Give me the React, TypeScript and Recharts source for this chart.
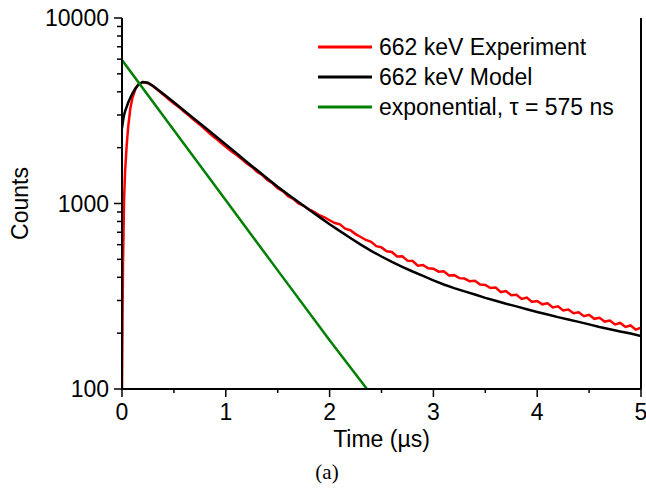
import React from "react";
import { LineChart, Line, XAxis, YAxis, Legend } from "recharts";

// experiment (red)
const expTime = [
  0, 0.005, 0.01, 0.02, 0.03, 0.045, 0.06, 0.08, 0.1, 0.13, 0.16, 0.2, 0.25,
  0.3, 0.35, 0.4, 0.45, 0.5, 0.55, 0.6, 0.65, 0.7, 0.75, 0.8, 0.85, 0.9, 0.95,
  1.0, 1.05, 1.1, 1.15, 1.2, 1.25, 1.3, 1.35, 1.4, 1.45, 1.5, 1.55, 1.6, 1.65,
  1.7, 1.75, 1.8, 1.85, 1.9, 1.95, 2.0, 2.05, 2.1, 2.15, 2.2, 2.25, 2.3, 2.35,
  2.4, 2.45, 2.5, 2.55, 2.6, 2.65, 2.7, 2.75, 2.8, 2.85, 2.9, 2.95, 3.0, 3.05,
  3.1, 3.15, 3.2, 3.25, 3.3, 3.35, 3.4, 3.45, 3.5, 3.55, 3.6, 3.65, 3.7, 3.75,
  3.8, 3.85, 3.9, 3.95, 4.0, 4.05, 4.1, 4.15, 4.2, 4.25, 4.3, 4.35, 4.4, 4.45,
  4.5, 4.55, 4.6, 4.65, 4.7, 4.75, 4.8, 4.85, 4.9, 4.95, 5.0,
];
const expCounts = [
  100, 230, 480, 1050, 1500, 2050, 2600, 3250, 3700, 4150, 4400, 4520, 4450,
  4290, 4060, 3850, 3650, 3460, 3300, 3120, 2960, 2800, 2660, 2510, 2370, 2250, 2130,
  2020, 1920, 1830, 1740, 1650, 1575, 1485, 1425, 1340, 1285, 1210, 1165, 1095, 1060,
  1000, 972, 930, 902, 865, 843, 812, 785, 772, 731, 718, 684, 660, 636,
  621, 589, 580, 553, 548, 518, 519, 492, 490, 462, 466, 447, 445, 429,
  431, 409, 411, 396, 394, 381, 383, 366, 364, 350, 352, 333, 337, 320,
  322, 306, 311, 295, 298, 286, 290, 275, 279, 265, 268, 256, 259, 247,
  251, 239, 242, 231, 234, 223, 227, 216, 220, 209, 214,
];

// model (black)
const modelTime = [
  0, 0.01, 0.02, 0.03, 0.045, 0.06, 0.08, 0.1, 0.13, 0.16, 0.2, 0.25, 0.3,
  0.4, 0.5, 0.6, 0.7, 0.8, 0.9, 1.0, 1.1, 1.2, 1.3, 1.4, 1.5, 1.6, 1.7, 1.8,
  1.9, 2.0, 2.1, 2.2, 2.3, 2.4, 2.5, 2.6, 2.7, 2.8, 2.9, 3.0, 3.1, 3.2, 3.3,
  3.4, 3.5, 3.6, 3.7, 3.8, 3.9, 4.0, 4.1, 4.2, 4.3, 4.4, 4.5, 4.6, 4.7, 4.8,
  4.9, 5.0,
];
const modelCounts = [
  2540, 2800, 3000, 3150, 3320, 3500, 3720, 3910, 4180, 4380, 4520, 4480, 4300,
  3890, 3510, 3160, 2850, 2570, 2310, 2080, 1870, 1680, 1515, 1365, 1230, 1117, 1019, 929,
  847, 773, 710, 652, 600, 556, 518, 485, 456, 430, 407, 385, 366, 350, 336,
  323, 310, 299, 288, 279, 269, 260, 252, 244, 237, 230, 223, 216, 210, 204,
  199, 193,
];

// exponential, tau = 575 ns (green)
const expoTime = [0, 0.5, 1.0, 1.5, 2.0, 2.36];
const expoCounts = [5930, 2480, 1040, 436, 183, 100];

const xTicks = [0, 0.5, 1, 1.5, 2, 2.5, 3, 3.5, 4, 4.5, 5];
const yTicks = [
  100, 200, 300, 400, 500, 600, 700, 800, 900,
  1000, 2000, 3000, 4000, 5000, 6000, 7000, 8000, 9000, 10000,
];
const yMajor = [100, 1000, 10000];

const expData = expTime.map((t, i) => ({ t, v: expCounts[i] }));
const modelData = modelTime.map((t, i) => ({ t, v: modelCounts[i] }));
const expoData = expoTime.map((t, i) => ({ t, v: expoCounts[i] }));

const FONT = "'Liberation Sans', Arial, Helvetica, sans-serif";
const FS = 23;
const AXIS = { stroke: "#000", strokeWidth: 2 };

const XTick = (props: any) => {
  const { x, y, payload } = props;
  const major = Number.isInteger(payload.value);
  return (
    <g>
      <line x1={x} x2={x} y1={y} y2={y + (major ? 8 : 4)} stroke="#000" strokeWidth={1.5} />
      {major && (
        <text x={x} y={y + 31} textAnchor="middle" fontFamily={FONT} fontSize={FS} fill="#000">
          {payload.value}
        </text>
      )}
    </g>
  );
};

const YTick = (props: any) => {
  const { x, y, payload } = props;
  const major = yMajor.includes(payload.value);
  return (
    <g>
      <line x1={x - (major ? 8 : 5)} x2={x} y1={y} y2={y} stroke="#000" strokeWidth={1.5} />
      {major && (
        <text x={x - 13} y={y + 8} textAnchor="end" fontFamily={FONT} fontSize={FS} fill="#000">
          {payload.value}
        </text>
      )}
    </g>
  );
};

const LegendBox = (props: any) => {
  const { payload } = props;
  return (
    <div style={{ fontFamily: FONT, fontSize: FS, color: "#000" }}>
      {payload.map((p: any) => (
        <div key={p.value} style={{ display: "flex", alignItems: "center", height: 30 }}>
          <svg width={54} height={4} style={{ marginRight: 7 }}>
            <line x1={0} x2={54} y1={2} y2={2} stroke={p.color} strokeWidth={3} />
          </svg>
          <span style={{ whiteSpace: "nowrap" }}>{p.value}</span>
        </div>
      ))}
    </div>
  );
};

export default function App() {
  return (
    <div style={{ position: "absolute", left: 0, top: 0, width: 646, height: 496, background: "#fff" }}>
      <LineChart width={646} height={496} margin={{ top: 18, right: 0, bottom: 37, left: 0 }}>
        <XAxis
          dataKey="t"
          type="number"
          domain={[0, 5]}
          ticks={xTicks}
          interval={0}
          height={70}
          tickSize={0}
          tickMargin={0}
          tickLine={false}
          tick={<XTick />}
          axisLine={AXIS}
          allowDataOverflow
          label={{
            content: (p: any) => {
              const vb = p.viewBox;
              return (
                <text x={vb.x + vb.width / 2} y={vb.y + 58} textAnchor="middle" fontFamily={FONT} fontSize={FS} fill="#000">
                  Time (µs)
                </text>
              );
            },
          }}
        />
        <XAxis
          xAxisId="top"
          orientation="top"
          type="number"
          domain={[0, 5]}
          height={0}
          tick={false}
          tickLine={false}
          axisLine={AXIS}
        />
        <YAxis
          scale="log"
          domain={[100, 10000]}
          ticks={yTicks}
          interval={0}
          width={122}
          tickSize={0}
          tickMargin={0}
          tickLine={false}
          tick={<YTick />}
          axisLine={AXIS}
          allowDataOverflow
          label={{
            content: (p: any) => {
              const vb = p.viewBox;
              const cx = vb.x + 28;
              const cy = vb.y + vb.height / 2;
              return (
                <text
                  x={cx}
                  y={cy}
                  transform={`rotate(-90 ${cx} ${cy})`}
                  textAnchor="middle"
                  fontFamily={FONT}
                  fontSize={FS}
                  fill="#000"
                >
                  Counts
                </text>
              );
            },
          }}
        />
        <YAxis
          yAxisId="right"
          orientation="right"
          width={5}
          domain={[100, 10000]}
          tick={false}
          tickLine={false}
          axisLine={AXIS}
        />
        <Legend
          layout="horizontal"
          verticalAlign="middle"
          align="center"
          content={<LegendBox />}
          wrapperStyle={{ position: "absolute", left: 318, top: 32, width: 320 }}
        />
        <Line
          data={expData}
          dataKey="v"
          name="662 keV Experiment"
          stroke="#ff0000"
          strokeWidth={2.5}
          dot={false}
          isAnimationActive={false}
        />
        <Line
          data={modelData}
          dataKey="v"
          name="662 keV Model"
          stroke="#000000"
          strokeWidth={2.5}
          dot={false}
          isAnimationActive={false}
        />
        <Line
          data={expoData}
          dataKey="v"
          name="exponential, τ = 575 ns"
          stroke="#008000"
          strokeWidth={2.5}
          dot={false}
          isAnimationActive={false}
        />
      </LineChart>
      <div
        style={{
          position: "absolute",
          left: 297,
          width: 60,
          top: 460,
          textAlign: "center",
          fontFamily: "'Liberation Serif', 'DejaVu Serif', serif",
          fontSize: 21,
        }}
      >
        (a)
      </div>
    </div>
  );
}
